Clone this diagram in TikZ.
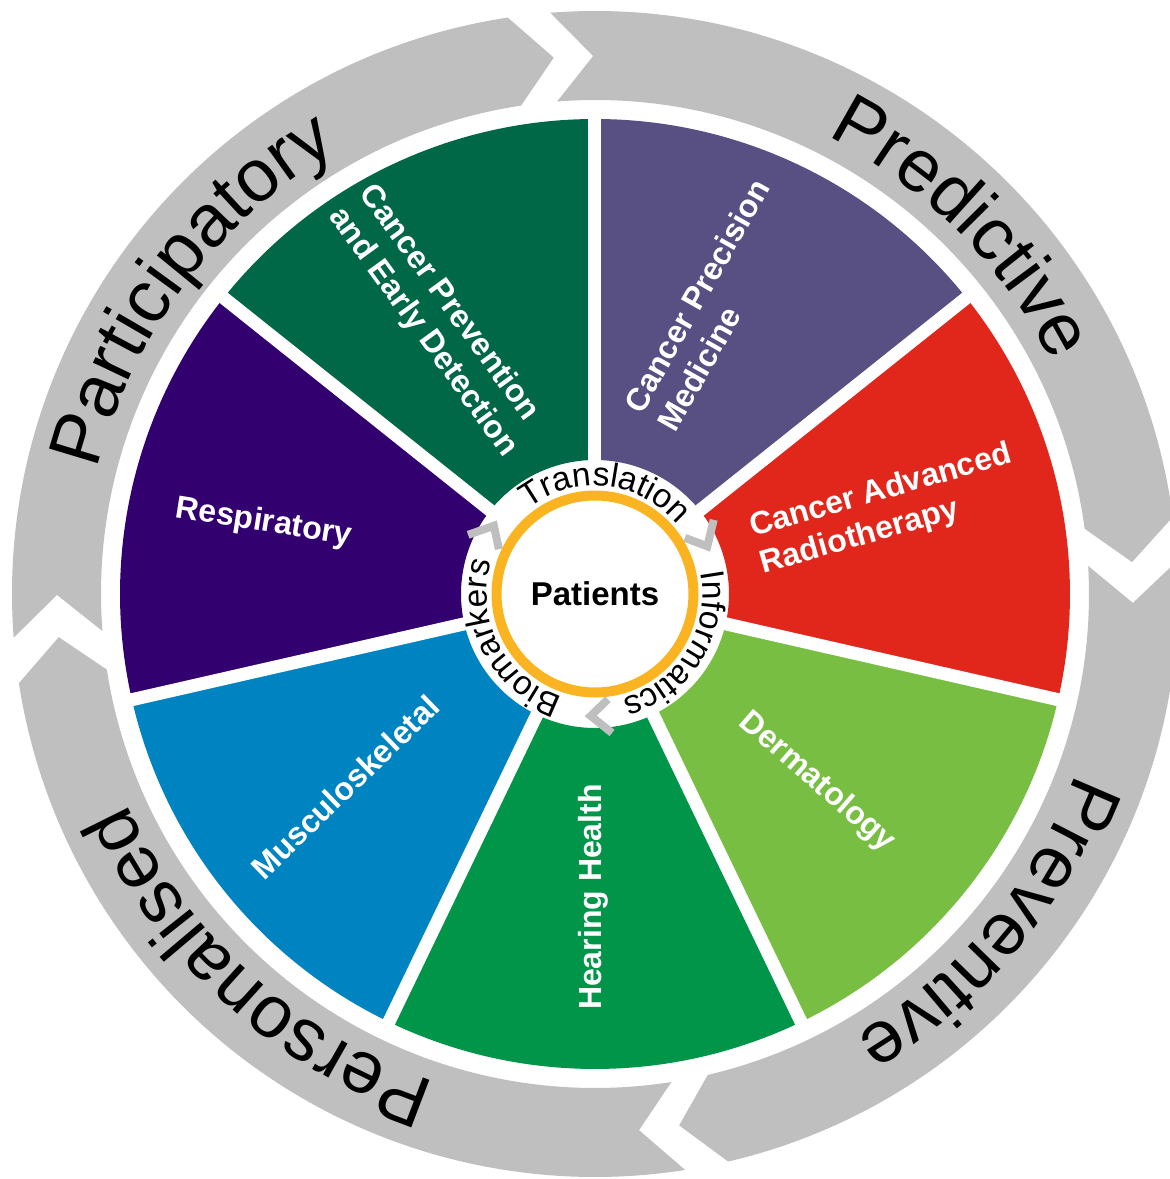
\documentclass[tikz,border=0pt]{standalone}
\usepackage{fontspec}
\setmainfont{Liberation Sans}
\usetikzlibrary{decorations.text}
\definecolor{ringgray}{RGB}{191,191,191}
\definecolor{ringorange}{RGB}{251,180,33}
\definecolor{prevgreen}{RGB}{0,103,71}
\definecolor{precpurple}{RGB}{88,79,131}
\definecolor{radred}{RGB}{225,38,28}
\definecolor{dermgreen}{RGB}{120,190,67}
\definecolor{heargreen}{RGB}{0,149,72}
\definecolor{muscblue}{RGB}{0,131,193}
\definecolor{resppurple}{RGB}{51,0,111}

\begin{document}
\begin{tikzpicture}[x=1pt, y=1pt,
    seglbl/.style={text=white, align=left, inner sep=0pt, font=\bfseries\fontsize{32}{38}\selectfont},
    ringtxt/.style={decorate, decoration={text along path, text align=center, text={#1}}}]
    \useasboundingbox (-595,-585) rectangle (575,594);

    \foreach \t/\h in {184.3/98.6, 94.4/7.6, 3.25/-76.8, -81.1/-171.2}
        \fill[ringgray] (\t:583) arc[start angle=\t, end angle=\h, radius=583] -- ({\h-4.2}:538) -- (\h:494) arc[start angle=\h, end angle=\t, radius=494] -- ({\t-4.2}:538) -- cycle;

    \foreach \clr [count=\i from 0] in {precpurple, radred, dermgreen, heargreen, muscblue, resppurple, prevgreen} {
        \pgfmathsetmacro\a{90-\i*360/7}
        \pgfmathsetmacro\b{\a-360/7}
        \fill[\clr] (\a:134) -- (\a:475) arc[start angle=\a, end angle=\b, radius=475] -- (\b:134) arc[start angle=\b, end angle=\a, radius=134] -- cycle;
    }
    \foreach \i in {0,...,6}
        \draw[white, line width=13] ({90-\i*360/7}:120) -- ({90-\i*360/7}:490);

    \path[ringtxt={|\fontsize{74}{80}\selectfont|Participatory}] (200:513) arc[start angle=200, end angle=86, radius=513];
    \path[ringtxt={|\fontsize{74}{80}\selectfont|Predictive}] (100:513) arc[start angle=100, end angle=-10, radius=513];
    \path[ringtxt={|\fontsize{74}{80}\selectfont|Preventive}] (15:513) arc[start angle=15, end angle=-95, radius=513];
    \path[ringtxt={|\fontsize{74}{80}\selectfont|Personalised}] (285:513) arc[start angle=285, end angle=171, radius=513];

    \node[seglbl, rotate=-54] (prevlbl) at (-157,273) {Cancer Prevention\\and Early Detection};
    \node[seglbl, rotate=60.5] (preclbl) at (118,289) {Cancer Precision\\Medicine};
    \node[seglbl, rotate=16] (radlbl) at (291,84) {Cancer Advanced\\Radiotherapy};
    \node[seglbl, rotate=-41] (dermlbl) at (222,-188) {Dermatology};
    \node[seglbl, rotate=90] (hearlbl) at (-2,-303) {Hearing Health};
    \node[seglbl, rotate=44] (musclbl) at (-250,-193) {Musculoskeletal};
    \node[seglbl, rotate=-9] (resplbl) at (-331,71) {Respiratory};

    \path[ringtxt={|\fontsize{33.5}{36}\selectfont|Translation}] (144:108) arc[start angle=144, end angle=24, radius=108];
    \path[ringtxt={|\fontsize{33.5}{36}\selectfont|Informatics}] (28:108) arc[start angle=28, end angle=-92, radius=108];
    \path[ringtxt={|\fontsize{33.5}{36}\selectfont|Biomarkers}] (267.5:108) arc[start angle=267.5, end angle=147.5, radius=108];

    \foreach \p in {23,-92,146}
        \draw[ringgray, line width=8] ({\p+9}:106) -- (\p:122) -- ({\p+9}:140);

    \draw[ringorange, line width=10] (0,0) circle[radius=98.5];
    \node[font=\bfseries\fontsize{33}{38}\selectfont] (patients) at (0,0) {Patients};
\end{tikzpicture}
\end{document}
